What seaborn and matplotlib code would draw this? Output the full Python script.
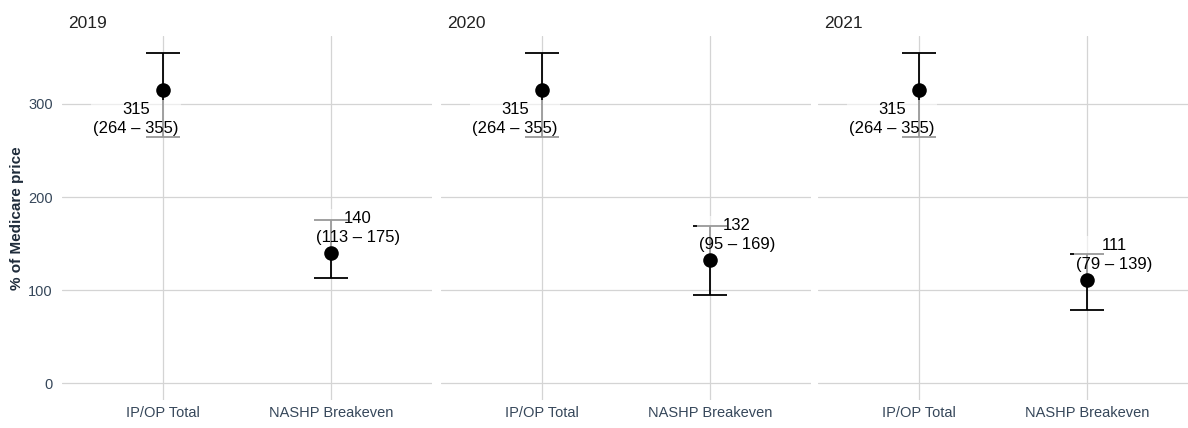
import numpy as np
import matplotlib
matplotlib.use("Agg")
import matplotlib.pyplot as plt
import seaborn as sns
import pandas as pd

# Data
years = ["2019", "2020", "2021"]
categories = ["IP/OP Total", "NASHP Breakeven"]
ipop_mid = [315, 315, 315]
ipop_lo = [264, 264, 264]
ipop_hi = [355, 355, 355]
nashp_mid = [140, 132, 111]
nashp_lo = [113, 95, 79]
nashp_hi = [175, 169, 139]

rows = []
for i, yr in enumerate(years):
    rows.append((yr, categories[0], ipop_mid[i], ipop_lo[i], ipop_hi[i]))
    rows.append((yr, categories[1], nashp_mid[i], nashp_lo[i], nashp_hi[i]))
df = pd.DataFrame(rows, columns=["year", "measure", "mid", "lo", "hi"])

sns.set_theme(style="whitegrid")
plt.rcParams["font.family"] = ["Liberation Sans", "DejaVu Sans"]

tick_color = "#36475a"
grid_color = "#d4d4d4"

fig = plt.figure(figsize=(11.88, 4.28), dpi=100)
W, H = 1188, 428
panel_w = 370
lefts = [62, 441, 818]
axes = []
for j, yr in enumerate(years):
    ax = fig.add_axes([lefts[j] / W, 1 - 400 / H, panel_w / W, (400 - 36) / H])
    axes.append(ax)
    sub = df[df["year"] == yr].reset_index(drop=True)
    xpos = np.arange(len(sub))

    # error bars
    ax.errorbar(xpos, sub["mid"], yerr=[sub["mid"] - sub["lo"], sub["hi"] - sub["mid"]],
                fmt="none", ecolor="black", elinewidth=1.3, capsize=12, capthick=1.3, zorder=3)
    # labels with translucent white boxes
    for k, r in sub.iterrows():
        if k == 0:
            lx, ly = xpos[k] - 0.16, r["mid"] - 31
        else:
            lx, ly = xpos[k] + 0.16, r["mid"] + 27
        ax.text(lx, ly, f"{r['mid']}\n({r['lo']} – {r['hi']})", ha="center", va="center",
                multialignment="center", fontsize=12, linespacing=1.35, color="black",
                bbox=dict(boxstyle="square,pad=0.12", fc=(1, 1, 1, 0.6), ec="none"), zorder=4)
    # points
    sns.scatterplot(x=xpos, y=sub["mid"].values, ax=ax, color="black", s=110,
                    edgecolor="black", linewidth=0, zorder=5, legend=False)

    ax.set_xlim(-0.6, 1.6)
    ax.set_ylim(-17.75, 372.75)
    ax.set_xticks(xpos)
    ax.set_xticklabels(categories)
    ax.set_yticks([0, 100, 200, 300])
    ax.grid(True, color=grid_color, linewidth=0.9)
    ax.set_facecolor("white")
    for s in ax.spines.values():
        s.set_visible(False)
    ax.tick_params(axis="both", length=0, labelsize=10.5, colors=tick_color)
    ax.tick_params(axis="x", pad=4)
    ax.tick_params(axis="y", pad=6.5)
    ax.set_xlabel("")
    ax.set_ylabel("")
    if j > 0:
        ax.set_yticklabels([])
    ax.text(6 / panel_w, 1 + 12 / 364, yr, transform=ax.transAxes, ha="left", va="center",
            fontsize=12.5, color="#222222")

axes[0].set_ylabel("% of Medicare price", fontsize=11, fontweight="bold", color="#1e2b3a", labelpad=3)

fig.savefig("out.png", dpi=100, facecolor="white")
